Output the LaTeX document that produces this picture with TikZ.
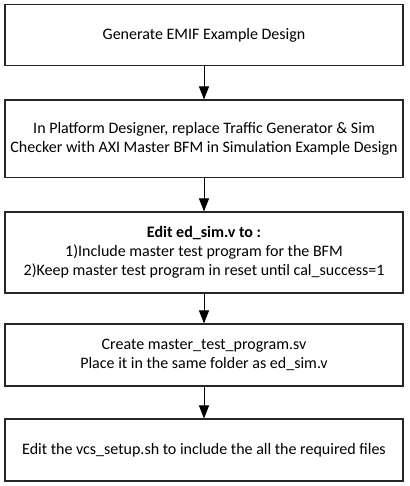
\documentclass[tikz,border=0pt]{standalone}
\usepackage{fontspec}
\setmainfont{Carlito}
\usetikzlibrary{arrows.meta}
\begin{document}
\begin{tikzpicture}[x=1pt,y=1pt,
  stepbox/.style={draw=black!85,line width=1.1pt,inner sep=0pt,align=center,font=\fontsize{16}{19}\selectfont},
  flow/.style={line width=1pt,-{Triangle[width=10pt,length=13pt]}}]
\useasboundingbox (0,0) rectangle (409,-486);
\node[stepbox,minimum width=398pt,minimum height=61pt] (b1) at (204,-35) {Generate EMIF Example Design};
\node[stepbox,minimum width=398pt,minimum height=77.5pt] (b2) at (204,-138.75) {In Platform Designer, replace Traffic Generator \& Sim\\Checker with AXI Master BFM in Simulation Example Design};
\node[stepbox,minimum width=398pt,minimum height=81pt] (b3) at (204,-252.5) {\textbf{Edit ed\_sim.v to :}\\1)Include master test program for the BFM\\2)Keep master test program in reset until cal\_success=1};
\node[stepbox,minimum width=398pt,minimum height=62pt] (b4) at (204,-355) {Create master\_test\_program.sv\\Place it in the same folder as ed\_sim.v};
\node[stepbox,minimum width=398pt,minimum height=62pt] (b5) at (204,-450) {Edit the vcs\_setup.sh to include the all the required files};
\draw[flow] (b1) -- (b2);
\draw[flow] (b2) -- (b3);
\draw[flow] (b3) -- (b4);
\draw[flow] (b4) -- (b5);
\end{tikzpicture}
\end{document}
